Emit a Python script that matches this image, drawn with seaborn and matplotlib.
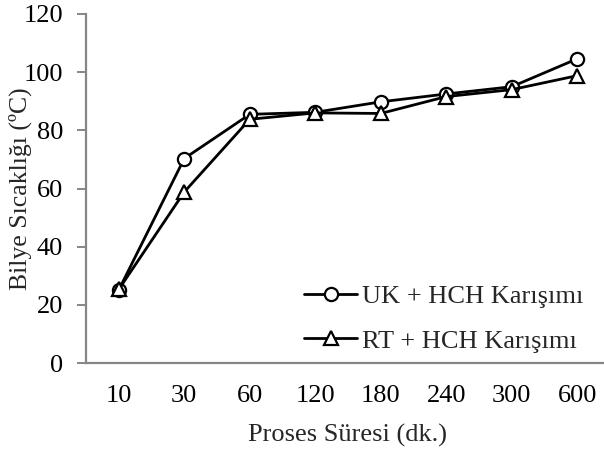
import pandas as pd
import numpy as np
import matplotlib
matplotlib.use('Agg')
import matplotlib.pyplot as plt
import seaborn as sns

# process times (categorical axis) and ball temperatures for both mixtures
sure = ['10', '30', '60', '120', '180', '240', '300', '600']
uk_hch = [25.1, 70.3, 85.5, 86.2, 89.8, 92.5, 95.0, 104.6]
rt_hch = [25.3, 58.8, 83.8, 86.0, 85.8, 91.6, 94.0, 98.8]
seri_adlari = ['UK + HCH Karışımı', 'RT + HCH Karışımı']
isaretler = ['o', '^']

sns.set_style('white')
plt.rcParams['font.family'] = ['Liberation Serif', 'DejaVu Serif']
plt.rcParams['font.size'] = 19

fig = plt.figure(figsize=(6.04, 4.5), dpi=100)
ax = fig.add_axes([86 / 604, 87 / 450, 524 / 604, 349 / 450])

for degerler, ad, isaret in zip([uk_hch, rt_hch], seri_adlari, isaretler):
    sns.lineplot(x=sure, y=degerler, ax=ax, label=ad, color='black',
                 linewidth=2.0, marker=isaret, markersize=9.5,
                 markerfacecolor='white', markeredgecolor='black',
                 markeredgewidth=1.6, sort=False)

ax.set_xlim(-0.5, len(sure) - 0.5)
ax.set_ylim(0, 120)
ax.set_yticks(np.arange(0, 121, 20))

gri = '#868686'
for s in ['top', 'right']:
    ax.spines[s].set_visible(False)
for s in ['left', 'bottom']:
    ax.spines[s].set_color(gri)
    ax.spines[s].set_linewidth(1.6)
ax.tick_params(axis='y', which='both', left=True, length=6.5, width=1.4,
               color=gri, pad=10, labelsize=19, labelcolor='black')
ax.tick_params(axis='x', length=0, pad=16, labelsize=19, labelcolor='black')

ax.set_xlabel('Proses Süresi (dk.)', fontsize=19, labelpad=12)
ax.set_ylabel('Bilye Sıcaklığı (ºC)', fontsize=18.5)
ax.yaxis.set_label_coords(-54 / 524, 0.5)

ax.legend(loc='lower right', bbox_to_anchor=(0.975, -0.008), frameon=False,
          fontsize=19, handlelength=2.0, handletextpad=0.2,
          labelspacing=0.8, borderpad=0)

fig.savefig('out.png', dpi=100)
